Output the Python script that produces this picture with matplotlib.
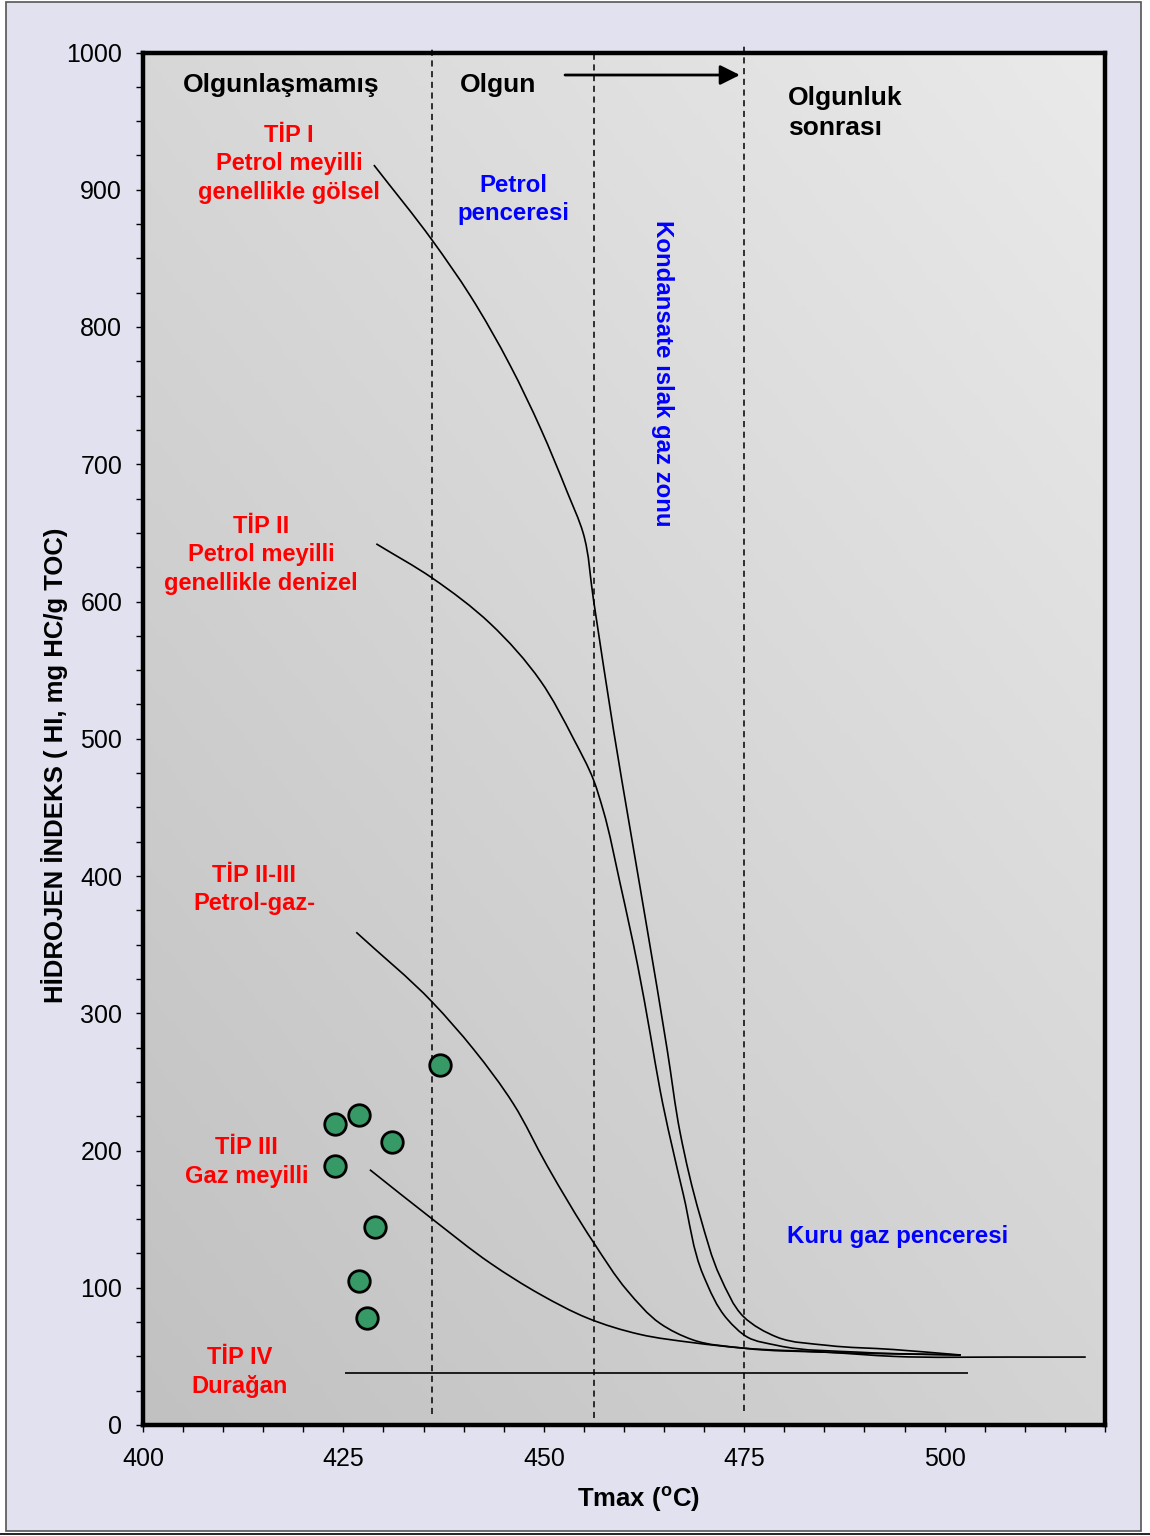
import matplotlib
matplotlib.use("Agg")
import matplotlib.pyplot as plt
from matplotlib.patches import Rectangle, PathPatch
from matplotlib.path import Path
from matplotlib.lines import Line2D
import numpy as np

plt.rcParams['font.family'] = ['Liberation Sans', 'DejaVu Sans']
plt.rcParams['mathtext.fontset'] = 'custom'
plt.rcParams['mathtext.rm'] = 'Liberation Sans'
plt.rcParams['mathtext.bf'] = 'Liberation Sans:bold'

# kerogen type evolution paths (Tmax, HI)
tip1_t = [428.8, 436.1, 440.8, 445.8, 449.6, 452.9, 454.9, 456.2, 458.7, 460.8,
          462.9, 465.4, 467.0, 469.5, 472.0, 474.9, 479.1, 485.4, 493.6, 502.0]
tip1_hi = [918, 863, 823, 772, 726, 680, 650, 601, 506, 433,
           361, 273, 213, 152, 108, 79, 64, 58, 55, 51]

tip2_t = [429.1, 436.1, 443.3, 449.6, 453.7, 456.2, 457.4, 459.5, 461.7, 463.3,
          464.5, 467.4, 469.9, 472.9, 475.4, 479.1, 489.5, 502.0]
tip2_hi = [642, 617, 584, 542, 500, 470, 448, 395, 335, 284,
           244, 168, 109, 77, 64, 58, 53, 51]

tip23_t = [426.6, 436.1, 441.2, 446.2, 450.4, 456.2, 460.4, 464.5, 468.6, 474.9, 485.4, 502.0]
tip23_hi = [359, 308, 274, 234, 189, 133, 98, 74, 62, 56, 53, 51]

tip3_t = [428.3, 436.1, 443.3, 449.6, 455.4, 462.0, 468.6, 474.9, 485.4, 493.6, 508.2, 517.6]
tip3_hi = [186, 150, 118, 95, 78, 66, 60, 56, 53, 50, 49.5, 49.5]

tip4_t = [425.2, 502.9]
tip4_hi = [38, 38]

# sample measurements
sample_tmax = [437, 427, 424, 431, 424, 429, 427, 428]
sample_hi = [262, 226, 219, 206, 189, 144, 105, 78]

# maturity boundaries
boundaries = [436.1, 456.2, 475.0]


def smooth_path(xs, ys, sx=8.0, sy=1.37):
    # cubic Bezier through the points, tangents from chord-length weighted differences
    p = np.column_stack([np.asarray(xs) * sx, np.asarray(ys) * sy]).astype(float)
    if len(p) < 3:
        return Path(p / [sx, sy])
    seg = np.diff(p, axis=0)
    d = np.hypot(seg[:, 0], seg[:, 1])
    unit = seg / d[:, None]
    tang = np.empty_like(p)
    tang[0] = unit[0]
    tang[-1] = unit[-1]
    for i in range(1, len(p) - 1):
        tang[i] = (d[i] * unit[i - 1] + d[i - 1] * unit[i]) / (d[i - 1] + d[i])
    verts = [p[0]]
    codes = [Path.MOVETO]
    for i in range(len(p) - 1):
        verts += [p[i] + tang[i] * d[i] / 3, p[i + 1] - tang[i + 1] * d[i] / 3, p[i + 1]]
        codes += [Path.CURVE4] * 3
    return Path(np.array(verts) / [sx, sy], codes)


fig = plt.figure(figsize=(11.5, 15.36), dpi=100)
fig.patch.set_facecolor('white')
fig.patches.append(Rectangle((6 / 1150, 1 - 1531 / 1536), 1135 / 1150, 1529 / 1536,
                             transform=fig.transFigure, facecolor='#e1e1ef',
                             edgecolor='#555555', lw=1.2, zorder=-10))
fig.lines.append(Line2D([0, 1], [1 - 1534 / 1536] * 2, transform=fig.transFigure,
                        color='black', lw=1.2))

ax = fig.add_axes([143 / 1150, 1 - 1425 / 1536, 962 / 1150, 1372.5 / 1536])
ax.set_xlim(400, 520)
ax.set_ylim(0, 1000)

# diagonal grey gradient behind the plot
gx, gy = np.meshgrid(np.linspace(0, 1, 200), np.linspace(0, 1, 200))
level = (193 + 19 * gx + 22 * gy) / 255
ax.imshow(np.dstack([level, level, level]), extent=[0, 1, 0, 1], transform=ax.transAxes,
          origin='lower', aspect='auto', zorder=0)

for s in ax.spines.values():
    s.set_linewidth(3.2)
    s.set_zorder(5)

ax.set_xticks(np.arange(400, 501, 25))
ax.set_xticks(np.arange(400, 521, 5), minor=True)
ax.set_yticks(np.arange(0, 1001, 100))
ax.set_yticks(np.arange(0, 1001, 25), minor=True)
ax.tick_params(which='both', direction='out', length=5, width=1, labelsize=18)
ax.tick_params(axis='x', pad=11)
ax.tick_params(axis='y', pad=10)

ax.set_xlabel(r'Tmax ($^{\mathbf{o}}$C)', fontsize=18.5, fontweight='bold')
ax.set_ylabel('HİDROJEN İNDEKS ( HI, mg HC/g TOC)', fontsize=18.5, fontweight='bold')
ax.xaxis.set_label_coords(0.5146, -0.043)
ax.yaxis.set_label_coords(-0.078, 0.481)

for bx, top, bot in zip(boundaries, [1003, 1000, 1007], [8, 5, 10]):
    ax.plot([bx, bx], [bot, top], color='black', lw=1.1, ls=(0, (4, 3)),
            clip_on=False, zorder=2)

for t, hi in [(tip1_t, tip1_hi), (tip2_t, tip2_hi), (tip23_t, tip23_hi),
              (tip3_t, tip3_hi), (tip4_t, tip4_hi)]:
    ax.add_patch(PathPatch(smooth_path(t, hi), facecolor='none', edgecolor='black',
                           lw=1.2, zorder=3))

ax.scatter(sample_tmax, sample_hi, s=240, color='#369966', edgecolor='black',
           linewidth=2, zorder=4)

ax.annotate('', xy=(474.8, 983.6), xytext=(452.3, 983.6),
            arrowprops=dict(arrowstyle='-|>', color='black', lw=2, mutation_scale=30))

bold = dict(fontweight='bold', fontsize=19)
ax.text(417.2, 976.5, 'Olgunlaşmamış', ha='center', va='center', color='black', **bold)
ax.text(444.3, 976, 'Olgun', ha='center', va='center', color='black', **bold)
ax.text(480.5, 956, 'Olgunluk\nsonrası', ha='left', va='center', color='black',
        linespacing=1.35, **bold)

red = dict(fontweight='bold', fontsize=17, color='red', ha='center', va='center',
           linespacing=1.3)
ax.text(418.2, 919, 'TİP I\nPetrol meyilli\ngenellikle gölsel', **red)
ax.text(414.7, 634, 'TİP II\nPetrol meyilli\ngenellikle denizel', **red)
ax.text(413.9, 390, 'TİP II-III\nPetrol-gaz-', **red)
ax.text(412.9, 191.5, 'TİP III\nGaz meyilli', **red)
ax.text(412.1, 38.5, 'TİP IV\nDurağan', **red)

blue = dict(fontweight='bold', fontsize=17.3, color='blue', ha='center', va='center')
ax.text(446.2, 893, 'Petrol\npenceresi', linespacing=1.3, **blue)
ax.text(464.8, 766, 'Kondansate ıslak gaz zonu', rotation=270, **blue)
ax.text(494.1, 137, 'Kuru gaz penceresi', **blue)

fig.savefig('out.png', dpi=100)
